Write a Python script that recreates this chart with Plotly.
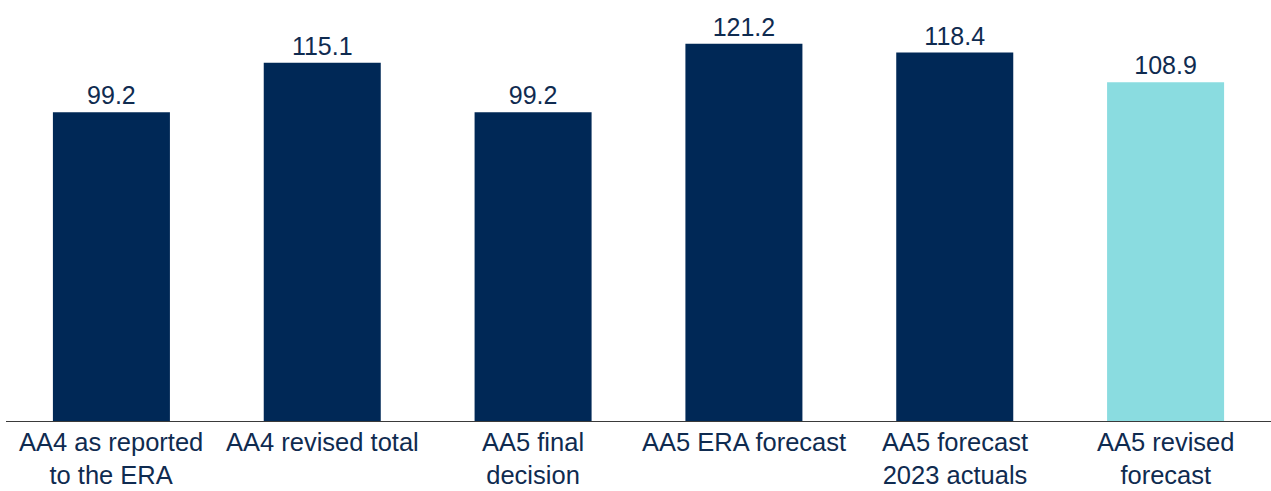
import plotly.graph_objects as go

categories = [
    "AA4 as reported<br>to the ERA",
    "AA4 revised total",
    "AA5 final<br>decision",
    "AA5 ERA forecast",
    "AA5 forecast<br>2023 actuals",
    "AA5 revised<br>forecast",
]
values = [99.2, 115.1, 99.2, 121.2, 118.4, 108.9]
bar_colors = ["#002856", "#002856", "#002856", "#002856", "#002856", "#8ADCE0"]

TEXT_COLOR = "#0F2B50"
FONT = "Liberation Sans, Arial, sans-serif"

fig = go.Figure(
    go.Bar(
        x=categories,
        y=values,
        marker=dict(color=bar_colors, line=dict(width=0)),
        text=[f"{v:.1f}" for v in values],
        textposition="outside",
        textfont=dict(family=FONT, size=25, color=TEXT_COLOR),
        cliponaxis=False,
        hoverinfo="skip",
    )
)

annotations = [
    dict(
        x=cat, xref="x", y=0, yref="paper",
        text=cat, showarrow=False,
        xanchor="center", yanchor="top", align="center",
        yshift=-5,
        font=dict(family=FONT, size=25.5, color=TEXT_COLOR),
    )
    for cat in categories
]

fig.update_layout(
    width=1271, height=491,
    margin=dict(l=6, r=0, t=0, b=70),
    paper_bgcolor="white", plot_bgcolor="white",
    bargap=0.445,
    showlegend=False,
    annotations=annotations,
    xaxis=dict(showticklabels=False, showline=True, linecolor="#3a3a3a", linewidth=1,
               ticks="", showgrid=False, zeroline=False),
    yaxis=dict(range=[0, 135.3], visible=False, showgrid=False, zeroline=False),
)

fig.write_html("out.html", config={"displayModeBar": False},
               post_script="document.body.style.margin='0';")
